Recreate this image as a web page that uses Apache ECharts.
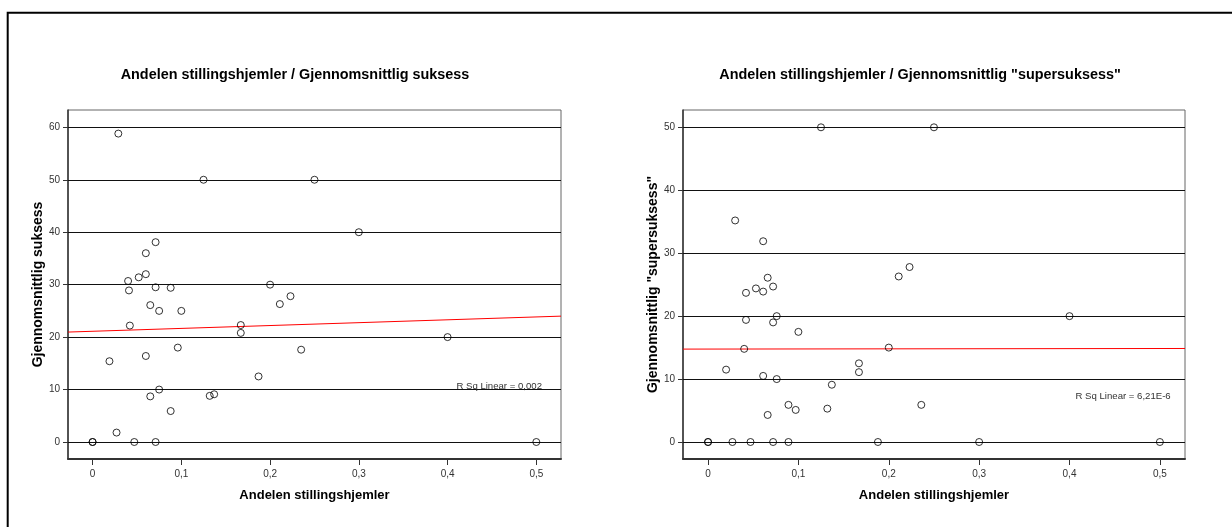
<!DOCTYPE html>
<html>
<head>
<meta charset="utf-8">
<script src="https://cdn.jsdelivr.net/npm/echarts@6/dist/echarts.min.js"></script>
<style>html,body{margin:0;padding:0;background:#fff;}#c{width:1232px;height:527px;}</style>
</head>
<body>
<div id="c"></div>
<script>
// ---- data ----
const leftTitle = 'Andelen stillingshjemler / Gjennomsnittlig suksess';
const rightTitle = 'Andelen stillingshjemler / Gjennomsnittlig "supersuksess"';
const xName = 'Andelen stillingshjemler';
const leftYName = 'Gjennomsnittlig suksess';
const rightYName = 'Gjennomsnittlig "supersuksess"';
const leftRsq = 'R Sq Linear = 0,002';
const rightRsq = 'R Sq Linear = 6,21E-6';

const xTicks = [0, 0.1, 0.2, 0.3, 0.4, 0.5];
const xTickLabels = ['0', '0,1', '0,2', '0,3', '0,4', '0,5'];
const leftYTicks = [0, 10, 20, 30, 40, 50, 60];
const rightYTicks = [0, 10, 20, 30, 40, 50];

const leftX = [0.029,0.125,0.250,0.071,0.060,0.060,0.052,0.040,0.041,0.071,0.088,0.065,0.075,0.100,0.042,0.200,0.211,0.223,0.167,0.167,0.096,0.019,0.060,0.235,0.187,0.075,0.065,0.132,0.137,0.088,0.027,0,0,0.047,0.071,0.300,0.400,0.500];
const leftY = [58.8,50,50,38.1,36.0,32.0,31.4,30.7,28.9,29.5,29.4,26.1,25.0,25.0,22.2,30.0,26.3,27.8,22.3,20.8,18.0,15.4,16.4,17.6,12.5,10.0,8.7,8.8,9.1,5.9,1.8,0,0,0,0,40,20,0];

const rightX = [0.030,0.125,0.250,0.061,0.066,0.053,0.042,0.061,0.072,0.042,0.072,0.076,0.100,0.040,0.020,0.061,0.076,0.066,0.089,0.097,0.137,0.132,0.167,0.167,0.200,0.211,0.223,0.236,0.400,0,0,0.027,0.047,0.072,0.089,0.188,0.300,0.500];
const rightY = [35.2,50,50,31.9,26.1,24.4,23.7,23.9,24.7,19.4,19.0,20.0,17.5,14.8,11.5,10.5,10.0,4.3,5.9,5.1,9.1,5.3,12.5,11.1,15.0,26.3,27.8,5.9,20.0,0,0,0,0,0,0,0,0,0];

// fit lines (endpoints read at the plot edges)
const leftFitX = [-0.0277, 0.5278];
const leftFitY = [20.96, 24.0];
const rightFitX = [-0.0277, 0.5278];
const rightFitY = [14.76, 14.86];

// axis extents
const xMin = -0.0277, xMax = 0.5278;
const leftYMin = -3.24, leftYMax = 63.3;
const rightYMin = -2.7, rightYMax = 52.75;

// ---- chart ----
const FONT = '"Liberation Sans", Arial, sans-serif';
const zip = (a, b) => a.map((v, i) => [v, b[i]]);
const fmtX = v => { const i = xTicks.indexOf(v); return i >= 0 ? xTickLabels[i] : String(v).replace('.', ','); };

function xAxis(gridIndex) {
  return {
    type: 'value', gridIndex, min: xMin, max: xMax,
    name: xName, nameLocation: 'middle', nameGap: 30,
    nameTextStyle: { fontFamily: FONT, fontSize: 13, fontWeight: 'bold', color: '#000' },
    axisLine: { show: true, onZero: false, lineStyle: { color: '#333', width: 2 } },
    axisTick: { show: true, length: 6, customValues: xTicks, lineStyle: { color: '#333', width: 1 } },
    axisLabel: { customValues: xTicks, formatter: fmtX, fontFamily: FONT, fontSize: 10, color: '#333', margin: 10 },
    splitLine: { show: false }
  };
}
function yAxis(gridIndex, min, max, ticks, name, gap) {
  return {
    type: 'value', gridIndex, min, max,
    name, nameLocation: 'middle', nameGap: gap, nameRotate: 90,
    nameTextStyle: { fontFamily: FONT, fontSize: 14, fontWeight: 'bold', color: '#000' },
    axisLine: { show: true, onZero: false, lineStyle: { color: '#333', width: 1.5 } },
    axisTick: { show: true, length: 5, customValues: ticks, lineStyle: { color: '#333', width: 1 } },
    axisLabel: { customValues: ticks, fontFamily: FONT, fontSize: 10, color: '#333', margin: 8 },
    splitLine: { show: false }
  };
}
function scatter(idx, xs, ys) {
  return {
    type: 'scatter', xAxisIndex: idx, yAxisIndex: idx, data: zip(xs, ys),
    symbol: 'circle', symbolSize: 7, z: 5,
    itemStyle: { color: 'rgba(0,0,0,0)', borderColor: '#000', borderWidth: 1 }
  };
}
function fit(idx, xs, ys, ticks) {
  return {
    type: 'line', xAxisIndex: idx, yAxisIndex: idx, data: zip(xs, ys),
    showSymbol: false, symbol: 'none', z: 3,
    lineStyle: { color: '#ff0000', width: 1 },
    markLine: {
      silent: true, symbol: ['none', 'none'], label: { show: false },
      lineStyle: { color: '#111', width: 1, type: 'solid' },
      data: ticks.map(v => ({ yAxis: v }))
    }
  };
}

const chart = echarts.init(document.getElementById('c'), null, { renderer: 'canvas' });
chart.setOption({
  animation: false,
  backgroundColor: '#fff',
  title: [
    { text: leftTitle, left: 290, top: 63, textAlign: 'center',
      textStyle: { fontFamily: FONT, fontSize: 14.4, fontWeight: 'bold', color: '#000' } },
    { text: rightTitle, left: 915, top: 63, textAlign: 'center',
      textStyle: { fontFamily: FONT, fontSize: 14.4, fontWeight: 'bold', color: '#000' } }
  ],
  grid: [
    { left: 68, top: 110, width: 493, height: 349, show: true, borderColor: '#666', borderWidth: 1 },
    { left: 683, top: 110, width: 502, height: 349, show: true, borderColor: '#666', borderWidth: 1 }
  ],
  xAxis: [xAxis(0), xAxis(1)],
  yAxis: [
    yAxis(0, leftYMin, leftYMax, leftYTicks, leftYName, 19),
    yAxis(1, rightYMin, rightYMax, rightYTicks, rightYName, 18)
  ],
  series: [
    fit(0, leftFitX, leftFitY, leftYTicks),
    scatter(0, leftX, leftY),
    fit(1, rightFitX, rightFitY, rightYTicks),
    scatter(1, rightX, rightY)
  ],
  graphic: [
    { type: 'rect', shape: { x: 7.7, y: 12.7, width: 1400, height: 700 },
      style: { fill: 'none', stroke: '#000', lineWidth: 2 }, silent: true },
    { type: 'text', x: 542, y: 386.3, style: { text: leftRsq, align: 'right', verticalAlign: 'middle',
      fontFamily: FONT, fontSize: 9.6, fill: '#333' }, z: 10 },
    { type: 'text', x: 1170.7, y: 396.7, style: { text: rightRsq, align: 'right', verticalAlign: 'middle',
      fontFamily: FONT, fontSize: 9.6, fill: '#333' }, z: 10 }
  ]
});
</script>
</body>
</html>
